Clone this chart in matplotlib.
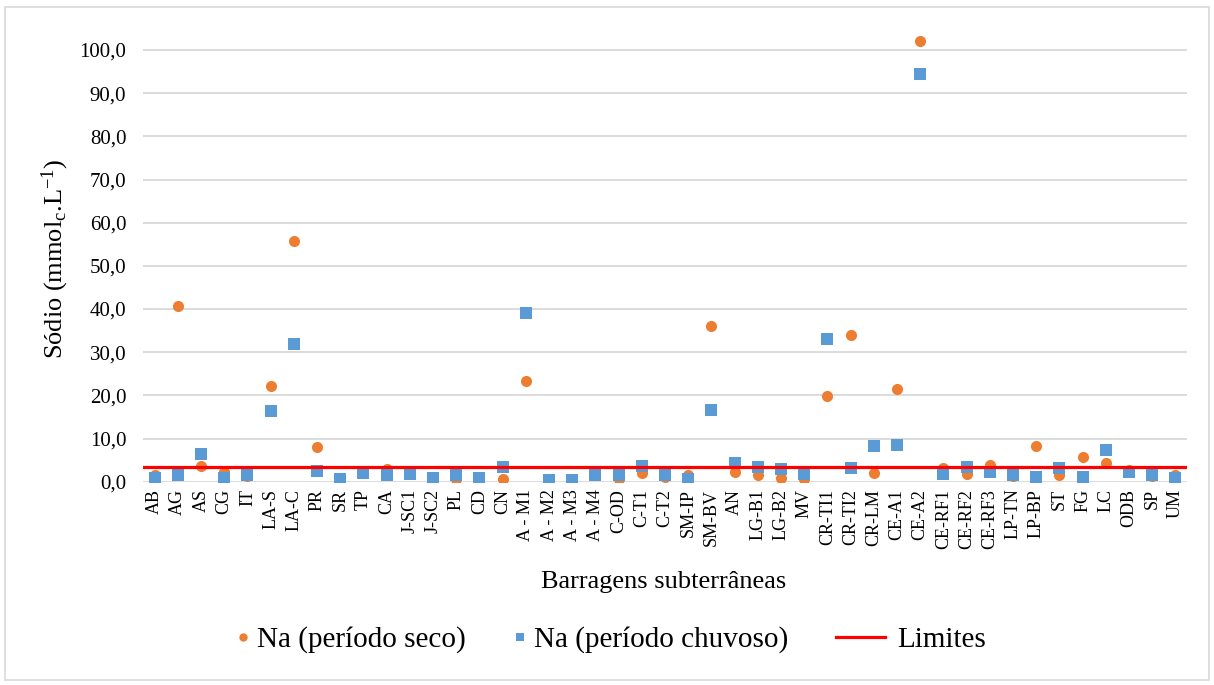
import numpy as np
import matplotlib
matplotlib.use("Agg")
import matplotlib.pyplot as plt
from matplotlib.ticker import FuncFormatter
from matplotlib.lines import Line2D
from matplotlib.patches import Rectangle

# fonte tipo Times
plt.rcParams['font.family'] = ['Liberation Serif', 'DejaVu Serif']
plt.rcParams['mathtext.fontset'] = 'custom'
plt.rcParams['mathtext.rm'] = 'Liberation Serif'
plt.rcParams['mathtext.it'] = 'Liberation Serif:italic'

# dados
categorias = ['AB', 'AG', 'AS', 'CG', 'IT', 'LA-S', 'LA-C', 'PR', 'SR', 'TP', 'CA',
              'J-SC1', 'J-SC2', 'PL', 'CD', 'CN', 'A - M1', 'A - M2', 'A - M3', 'A - M4',
              'C-OD', 'C-T1', 'C-T2', 'SM-IP', 'SM-BV', 'AN', 'LG-B1', 'LG-B2', 'MV',
              'CR-TI1', 'CR-TI2', 'CR-LM', 'CE-A1', 'CE-A2', 'CE-RF1', 'CE-RF2', 'CE-RF3',
              'LP-TN', 'LP-BP', 'ST', 'FG', 'LC', 'ODB', 'SP', 'UM']

na_seco = [1.5, 40.7, 3.7, 2.3, 1.3, 22.2, 55.8, 8.1, 0.5, 2.0, 3.0,
           2.0, 0.8, 0.7, 0.5, 0.7, 23.3, 0.3, 0.3, 1.5,
           0.7, 1.9, 1.2, 1.6, 36.1, 2.2, 1.6, 0.9, 0.6,
           19.9, 34.0, 2.0, 21.4, 102.1, 3.2, 1.8, 3.9,
           1.4, 8.2, 1.6, 5.7, 4.3, 2.8, 1.3, 1.5]

na_chuvoso = [0.9, 1.5, 6.4, 0.9, 1.5, 16.4, 31.9, 2.4, 0.6, 1.9, 1.6,
              1.8, 0.9, 1.5, 0.9, 3.5, 39.0, 0.4, 0.4, 1.5,
              1.6, 3.7, 1.6, 0.7, 16.5, 4.3, 3.4, 2.9, 1.8,
              33.1, 3.2, 8.2, 8.6, 94.4, 1.7, 3.5, 2.2,
              1.5, 1.1, 3.2, 1.1, 7.3, 2.2, 1.5, 0.9]

limite = 3.3

laranja = '#ED7D31'
azul = '#5B9BD5'
vermelho = '#FF0000'
cinza = '#D9D9D9'

fig = plt.figure(figsize=(12.14, 6.85), dpi=100)
ax = fig.add_axes([143 / 1214, 0.2968, 1044 / 1214, 0.6806])

x = np.arange(len(categorias))
ax.plot(x, na_seco, 'o', color=laranja, markersize=8, mew=0, zorder=3)
ax.plot(x, na_chuvoso, 's', color=azul, markersize=8.5, mew=0, zorder=4)
ax.axhline(limite, color=vermelho, lw=2.3, zorder=5)

# eixos
ax.set_xlim(-0.5, len(categorias) - 0.5)
ax.set_ylim(0, 108)
ax.set_yticks(np.arange(0, 101, 10))
ax.yaxis.set_major_formatter(FuncFormatter(lambda v, p: f'{v:.1f}'.replace('.', ',')))
ax.set_xticks(x)
ax.set_xticklabels(categorias, rotation=90, fontsize=13)
ax.tick_params(axis='y', labelsize=15, length=0, pad=12)
ax.tick_params(axis='x', length=0, pad=5)
ax.grid(axis='y', color=cinza, lw=1.3)
ax.set_axisbelow(True)
for s in ax.spines.values():
    s.set_visible(False)

ax.set_ylabel('Sódio (mmol$_\\mathrm{c}$.L$^{\\mathrm{-1}}$)', fontsize=19, va='center')
ax.yaxis.set_label_coords(-0.0843, 0.478)
ax.set_xlabel('Barragens subterrâneas', fontsize=19, va='center')
ax.xaxis.set_label_coords(0.499, -0.215)

# legenda (duas partes: marcadores e linha, como no Excel)
h_seco = Line2D([], [], ls='none', marker='o', color=laranja, markersize=6, mew=0)
h_chuv = Line2D([], [], ls='none', marker='s', color=azul, markersize=6, mew=0)
h_lim = Line2D([], [], color=vermelho, lw=2.3)
fig.legend([h_seco, h_chuv], ['Na (período seco)', 'Na (período chuvoso)'],
           loc='center left', bbox_to_anchor=(235 / 1214, 0.066), ncol=2, frameon=False,
           fontsize=21, handlelength=0.55, handletextpad=0.2, columnspacing=1.58,
           borderpad=0, borderaxespad=0)
fig.legend([h_lim], ['Limites'],
           loc='center left', bbox_to_anchor=(836 / 1214, 0.066), frameon=False,
           fontsize=21, handlelength=1.68, handletextpad=0.41,
           borderpad=0, borderaxespad=0)

# borda do grafico
fig.patches.append(Rectangle((5 / 1214, 5 / 685), 1204 / 1214, 673 / 685,
                             transform=fig.transFigure, fill=False, ec=cinza, lw=1.2))

fig.savefig('out.png', dpi=100)
